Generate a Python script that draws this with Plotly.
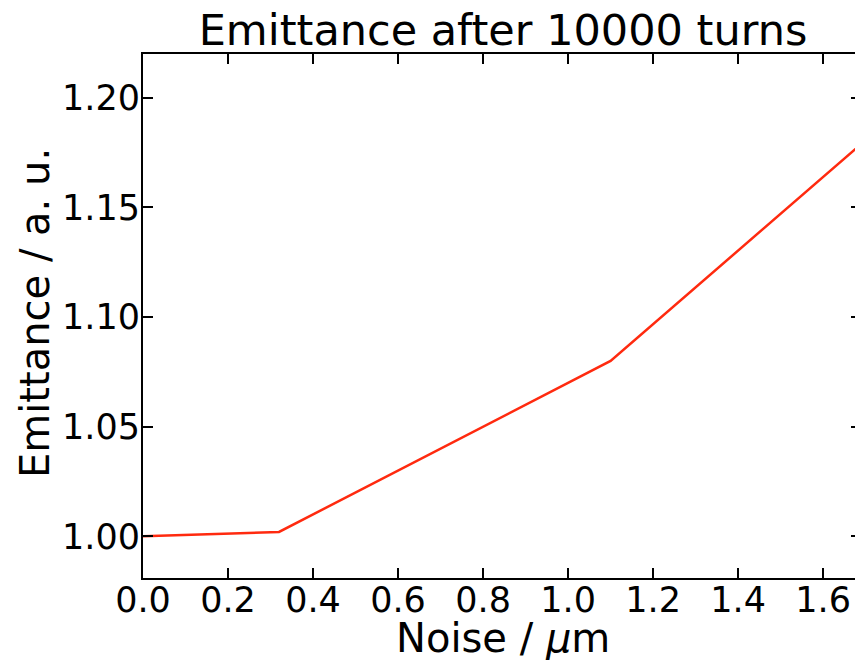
import plotly.graph_objects as go

noise = [0.0, 0.32, 1.1, 1.69]
emittance = [1.0, 1.002, 1.08, 1.179]
x_ticks = [0.0, 0.2, 0.4, 0.6, 0.8, 1.0, 1.2, 1.4, 1.6]
x_tick_text = ["0.0", "0.2", "0.4", "0.6", "0.8", "1.0", "1.2", "1.4", "1.6"]
y_ticks = [1.00, 1.05, 1.10, 1.15, 1.20]
y_tick_text = ["1.00", "1.05", "1.10", "1.15", "1.20"]

FONT = "DejaVu Sans"
PLOT_W = 855 - 143
PLOT_H = 578 - 54

fig = go.Figure()
fig.add_trace(go.Scatter(x=noise, y=emittance, mode="lines",
                         line=dict(color="#ff2a0f", width=2.5),
                         showlegend=False, hoverinfo="skip"))
fig.add_trace(go.Scatter(x=noise, y=emittance, mode="lines", yaxis="y2",
                         line=dict(color="rgba(0,0,0,0)", width=0),
                         showlegend=False, hoverinfo="skip"))

fig.update_layout(
    width=855, height=660,
    margin=dict(l=143, r=0, t=54, b=82),
    paper_bgcolor="white", plot_bgcolor="white",
    font=dict(family=FONT, size=35, color="black"),
    title=dict(text="Emittance after 10000 turns", font=dict(size=43),
               x=503 / 855, xref="container", xanchor="center",
               y=1 - 30 / 660, yref="container", yanchor="middle"),
    xaxis=dict(range=[0, 1.675], tickvals=x_ticks, ticktext=x_tick_text,
               ticks="inside", ticklen=10, tickwidth=2, tickcolor="black",
               showline=True, linewidth=2, linecolor="black", mirror="ticks",
               showgrid=False, zeroline=False, ticklabelstandoff=-10),
    yaxis=dict(range=[0.981, 1.22], tickvals=y_ticks, ticktext=y_tick_text,
               ticks="inside", ticklen=10, tickwidth=2, tickcolor="black",
               showline=True, linewidth=2, linecolor="black", mirror=False,
               showgrid=False, zeroline=False, ticklabelstandoff=-6),
    yaxis2=dict(overlaying="y", side="right", matches="y", range=[0.981, 1.22],
                tickvals=y_ticks, ticks="inside", ticklen=4, tickwidth=2,
                tickcolor="black", showticklabels=False, showline=False,
                showgrid=False, zeroline=False),
    annotations=[
        dict(text="Noise / <i>μ</i>m", xref="paper", yref="paper",
             x=(503 - 143) / PLOT_W, y=-(638 - 578) / PLOT_H,
             xanchor="center", yanchor="middle", showarrow=False,
             font=dict(size=40)),
        dict(text="Emittance / a. u.", xref="paper", yref="paper",
             x=-(143 - 35) / PLOT_W, y=(578 - 313) / PLOT_H,
             xanchor="center", yanchor="middle", textangle=-90,
             showarrow=False, font=dict(size=40)),
    ],
)

fig.write_html("out.html")
